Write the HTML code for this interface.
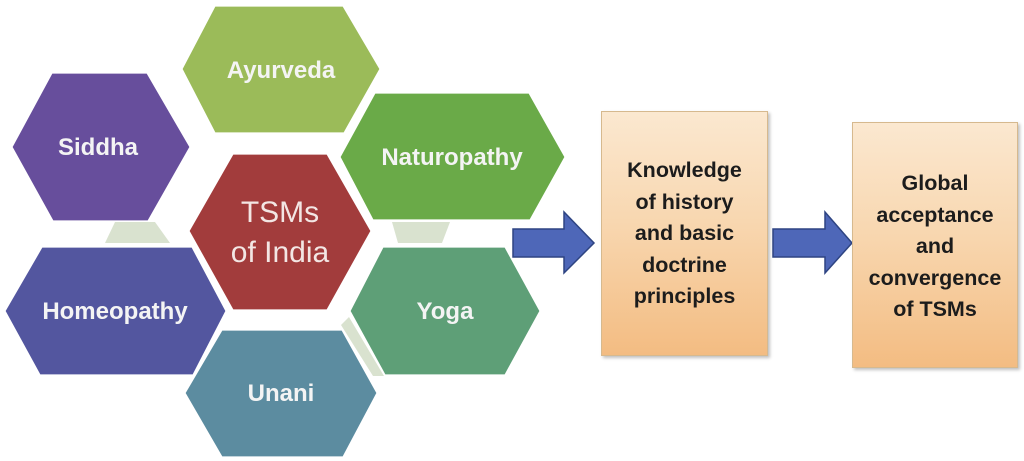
<!DOCTYPE html>
<html>
<head>
<meta charset="utf-8">
<style>
  html,body{margin:0;padding:0;background:#fff;}
  body{width:1024px;height:461px;overflow:hidden;position:relative;}
  svg{position:absolute;left:0;top:0;}
  .box{position:absolute;box-sizing:border-box;border:1.5px solid #d6b98e;
       background:linear-gradient(to bottom,#fbe8d0 0%,#f8d7b0 45%,#f3bc82 100%);
       box-shadow:2px 2px 3px rgba(0,0,0,0.25);
       font-family:"Liberation Sans",Arial,sans-serif;font-weight:bold;font-size:21.5px;
       color:#1c1c1c;text-align:center;line-height:31.5px;}
</style>
</head>
<body>
<svg width="1024" height="461" viewBox="0 0 1024 461" xmlns="http://www.w3.org/2000/svg">
  <!-- pale connectors -->
  <polygon points="115,222 155,222 170,243 105,243" fill="#d9e2cf"/>
  <polygon points="392,222 450,222 442,243 398,243" fill="#d9e2cf"/>
  <polygon points="341,325 349,317 384,376 373,376" fill="#d9e2cf"/>

  <g stroke="#ffffff" stroke-width="1.2">
    <!-- Ayurveda -->
    <polygon points="215,6 343,6 380,69 344,133 215,133 182,69" fill="#9bbb59"/>
    <!-- Siddha -->
    <polygon points="52,73 147,73 190,147 148,221 53,221 12,147" fill="#674e9c"/>
    <!-- Naturopathy -->
    <polygon points="375,93 529,93 565,157 530,220 373,220 340,157" fill="#6aaa48"/>
    <!-- TSMs -->
    <polygon points="233,154 327,154 371,231 327,310 233,310 189,231" fill="#a23c3c"/>
    <!-- Homeopathy -->
    <polygon points="42,247 192,247 226,311 193,375 40,375 5,311" fill="#53569f"/>
    <!-- Yoga -->
    <polygon points="383,247 505,247 540,311 505,375 385,375 350,311" fill="#5e9f77"/>
    <!-- Unani -->
    <polygon points="222,330 342,330 377,393 343,457 222,457 185,393" fill="#5c8ca0"/>
  </g>

  <!-- arrows -->
  <polygon points="513,229 564,229 564,212 594,243 564,273 564,257 513,257" fill="#4e67b8" stroke="#2e4482" stroke-width="1.5"/>
  <polygon points="773,229 825,229 825,212 852,243 825,273 825,257 773,257" fill="#4e67b8" stroke="#2e4482" stroke-width="1.5"/>

  <g font-family="Liberation Sans, Arial, sans-serif" font-weight="bold" font-size="24" fill="#f4f4f4" text-anchor="middle">
    <text x="98" y="155">Siddha</text>
    <text x="281" y="78">Ayurveda</text>
    <text x="452" y="165">Naturopathy</text>
    <text x="115" y="319">Homeopathy</text>
    <text x="445" y="319">Yoga</text>
    <text x="281" y="401">Unani</text>
  </g>
  <g font-family="Liberation Sans, Arial, sans-serif" font-size="30" fill="#f3e6e4" text-anchor="middle">
    <text x="280" y="222">TSMs</text>
    <text x="280" y="262">of India</text>
  </g>
</svg>

<div class="box" style="left:601px;top:111px;width:167px;height:245px;padding-top:43px;">Knowledge<br>of history<br>and basic<br>doctrine<br>principles</div>
<div class="box" style="left:852px;top:122px;width:166px;height:246px;padding-top:45px;">Global<br>acceptance<br>and<br>convergence<br>of TSMs</div>
</body>
</html>
